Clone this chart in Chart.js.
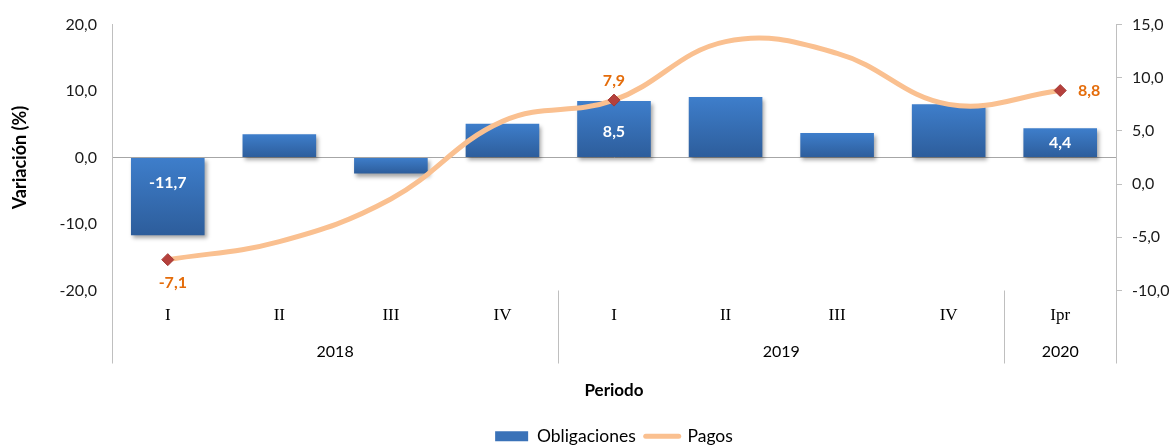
<!DOCTYPE html>
<html>
<head>
<meta charset="utf-8">
<script src="https://cdn.jsdelivr.net/npm/chart.js@4"></script>
<style>
  html, body { margin: 0; padding: 0; background: #fff; }
  #wrap { width: 1174px; height: 447px; }
</style>
</head>
<body>
<div id="wrap"><canvas id="chart"></canvas></div>
<script>
// Obligaciones vs Pagos - variación trimestral

const quarters = ['I', 'II', 'III', 'IV', 'I', 'II', 'III', 'IV', 'Ipr'];
const years = ['2018', '2019', '2020'];
const quartersPerYear = [4, 4, 1];
const obligaciones = [-11.7, 3.5, -2.4, 5.1, 8.5, 9.1, 3.7, 8.0, 4.4];
const pagos = [-7.1, -5.4, -1.4, 5.9, 7.9, 13.4, 12.3, 7.5, 8.8];
const leftTicks = [-20, -10, 0, 10, 20];
const rightTicks = [-10, -5, 0, 5, 10, 15];
const barLabelIdx = [0, 4, 8];
const lineLabelIdx = [0, 4, 8];
const lineLabelPlace = ['below', 'above', 'right'];

const SANS = "Lato, 'Open Sans', sans-serif";
const SERIF = "'Liberation Serif', 'DejaVu Serif', serif";
const AXIS_GREY = '#BFBFBF';

const fmt = v => Number(v).toFixed(1).replace('.', ',');

function barGradient(c) {
    const { ctx, chartArea, scales } = c.chart;
    if (!chartArea || c.dataIndex === undefined) return '#3A72B8';
    const v = obligaciones[c.dataIndex];
    const y0 = scales.y.getPixelForValue(Math.max(v, 0));
    const y1 = scales.y.getPixelForValue(Math.min(v, 0));
    const g = ctx.createLinearGradient(0, y0, 0, y1);
    g.addColorStop(0, '#3E7ECB');
    g.addColorStop(1, '#2D5D9B');
    return g;
}

const barShadow = {
    id: 'barShadow',
    beforeDatasetDraw(chart, args) {
        if (args.index !== 0) return;
        const ctx = chart.ctx;
        ctx.save();
        ctx.shadowColor = 'rgba(0,0,0,0.35)';
        ctx.shadowBlur = 4;
        ctx.shadowOffsetX = 2;
        ctx.shadowOffsetY = 3;
    },
    afterDatasetDraw(chart, args) {
        if (args.index !== 0) return;
        chart.ctx.restore();
    }
};

// second level of the category axis: years + separators
const yearAxis = {
    id: 'yearAxis',
    afterDraw(chart) {
        const { ctx, chartArea, scales: { x } } = chart;
        const bottom = chartArea.bottom + 73;
        ctx.save();
        ctx.strokeStyle = AXIS_GREY;
        ctx.lineWidth = 1;
        const edge = px => {
            ctx.beginPath();
            ctx.moveTo(Math.round(px) + 0.5, chartArea.bottom);
            ctx.lineTo(Math.round(px) + 0.5, bottom);
            ctx.stroke();
        };
        edge(chartArea.left);
        edge(chartArea.right);
        ctx.font = `16px ${SANS}`;
        ctx.fillStyle = '#000';
        ctx.textAlign = 'center';
        ctx.textBaseline = 'middle';
        let start = 0;
        years.forEach((yr, k) => {
            const end = start + quartersPerYear[k] - 1;
            const cx = (x.getPixelForTick(start) + x.getPixelForTick(end)) / 2;
            ctx.fillText(yr, cx, chartArea.bottom + 61);
            if (k > 0) edge((x.getPixelForTick(start - 1) + x.getPixelForTick(start)) / 2);
            start = end + 1;
        });
        ctx.restore();
    }
};

const valueLabels = {
    id: 'valueLabels',
    afterDatasetsDraw(chart) {
        const ctx = chart.ctx;
        const bars = chart.getDatasetMeta(0).data;
        const pts = chart.getDatasetMeta(1).data;
        ctx.save();
        ctx.font = `bold 16px ${SANS}`;
        ctx.textAlign = 'center';
        ctx.textBaseline = 'middle';
        ctx.fillStyle = '#fff';
        barLabelIdx.forEach(i => {
            const b = bars[i];
            const off = Math.min(25, Math.abs(b.base - b.y) / 2);
            const y = obligaciones[i] >= 0 ? b.base - off : b.base + off;
            ctx.fillText(fmt(obligaciones[i]), b.x, y);
        });
        ctx.fillStyle = '#E46C0A';
        lineLabelIdx.forEach((i, k) => {
            const p = pts[i];
            const place = lineLabelPlace[k];
            let lx = p.x, ly = p.y;
            if (place === 'below') { lx += 5; ly += 23; }
            if (place === 'above') { ly -= 19; }
            if (place === 'right') { lx += 29; }
            ctx.fillText(fmt(pagos[i]), lx, ly);
        });
        ctx.restore();
    }
};

new Chart(document.getElementById('chart'), {
    type: 'bar',
    data: {
        labels: quarters,
        datasets: [
            {
                type: 'bar',
                label: 'Obligaciones',
                data: obligaciones,
                yAxisID: 'y',
                order: 1,
                backgroundColor: barGradient,
                categoryPercentage: 1,
                barPercentage: 0.66
            },
            {
                type: 'line',
                label: 'Pagos',
                data: pagos,
                yAxisID: 'y1',
                order: 0,
                borderColor: '#FAC090',
                borderWidth: 5,
                borderCapStyle: 'round',
                tension: 0.4,
                fill: false,
                pointStyle: 'rectRot',
                pointRadius: c => lineLabelIdx.includes(c.dataIndex) ? 6 : 0,
                pointBackgroundColor: '#B5403C',
                pointBorderColor: '#A33834',
                pointBorderWidth: 1
            }
        ]
    },
    options: {
        responsive: true,
        maintainAspectRatio: false,
        animation: false,
        layout: { padding: { top: 20, bottom: -8, left: 0, right: 0 } },
        plugins: {
            tooltip: { enabled: false },
            legend: {
                position: 'bottom',
                fullSize: false,
                labels: {
                    usePointStyle: true,
                    pointStyleWidth: 33,
                    boxHeight: 10,
                    padding: 10,
                    color: '#000',
                    font: { family: SANS, size: 17.5 },
                    generateLabels: () => [
                        { text: 'Obligaciones', pointStyle: 'rect', fillStyle: '#3A72B8', strokeStyle: '#3A72B8', lineWidth: 0, datasetIndex: 0, hidden: false },
                        { text: 'Pagos', pointStyle: 'line', fillStyle: '#FAC090', strokeStyle: '#FAC090', lineWidth: 5, lineCap: 'round', datasetIndex: 1, hidden: false }
                    ]
                }
            }
        },
        scales: {
            x: {
                grid: { display: false, drawTicks: false },
                border: { display: false },
                ticks: { font: { family: SERIF, size: 17 }, color: '#000', padding: 15, maxRotation: 0, autoSkip: false },
                title: {
                    display: true,
                    text: 'Periodo',
                    color: '#000',
                    font: { family: SANS, size: 17, weight: 'bold' },
                    padding: { top: 0, bottom: 17 }
                },
                afterFit: s => { s.height = 127; }
            },
            y: {
                position: 'left',
                min: leftTicks[0],
                max: leftTicks[leftTicks.length - 1],
                ticks: { stepSize: leftTicks[1] - leftTicks[0], callback: fmt, color: '#1a1a1a', font: { family: SANS, size: 16 }, padding: 15 },
                grid: { drawTicks: false, color: c => c.tick && c.tick.value === 0 ? '#A6A6A6' : 'transparent' },
                border: { display: true, color: AXIS_GREY },
                title: {
                    display: true,
                    text: 'Variación (%)',
                    color: '#000',
                    font: { family: SANS, size: 18, weight: 'bold' },
                    padding: { top: 9, bottom: 0 }
                },
                afterFit: s => { s.width = 112; }
            },
            y1: {
                position: 'right',
                min: rightTicks[0],
                max: rightTicks[rightTicks.length - 1],
                ticks: { stepSize: rightTicks[1] - rightTicks[0], callback: fmt, color: '#1a1a1a', font: { family: SANS, size: 16 }, padding: 10 },
                grid: { drawOnChartArea: false, drawTicks: true, tickLength: 6, color: AXIS_GREY },
                border: { display: true, color: AXIS_GREY },
                afterFit: s => { s.width = 58; }
            }
        }
    },
    plugins: [barShadow, yearAxis, valueLabels]
});
</script>
</body>
</html>
